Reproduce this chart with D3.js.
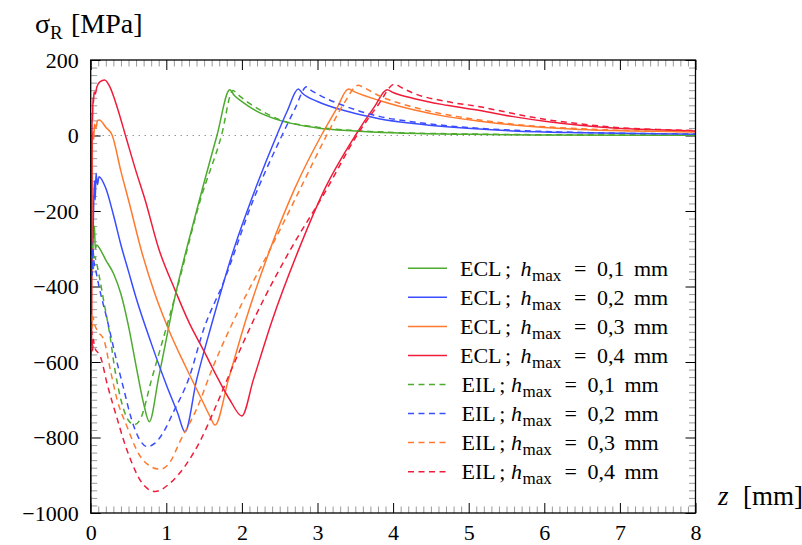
<!DOCTYPE html>
<html><head><meta charset="utf-8">
<script src="https://cdn.jsdelivr.net/npm/d3@7"></script>
<style>
body{margin:0;background:#fff;}
svg text{font-family:"Liberation Serif","Times New Roman",Times,"DejaVu Serif",serif !important;}
</style></head>
<body><svg id="c" width="802" height="545"></svg>
<script>
const xTicks=[0,1,2,3,4,5,6,7,8];
const yTicks=[200,0,-200,-400,-600,-800,-1000];
const hmaxLabels=["0,1","0,2","0,3","0,4"];
const colors=["#4dab2e","#3a4dff","#ff7a2e","#f01c3a"];

const ecl01=[[0,-240],[0.01,-200],[0.02,-300],[0.03,-230],[0.04,-270],[0.05,-240],[0.06,-300],[0.08,-290],[0.12,-300],[0.2,-330],[0.3,-365],[0.4,-420],[0.5,-505],[0.6,-610],[0.7,-710],[0.775,-758],[0.9,-640],[1.115,-427],[1.4,-200],[1.67,0],[1.84,121],[1.9,106],[2.0,90],[2.2,64],[2.5,40],[3.0,20],[3.5,12],[4.0,7],[5,3],[6,1.5],[8,0.5]];
const ecl02=[[0,-380],[0.01,-260],[0.02,-340],[0.03,-280],[0.04,-180],[0.05,-120],[0.06,-170],[0.07,-100],[0.09,-130],[0.11,-109],[0.2,-140],[0.3,-210],[0.4,-290],[0.5,-360],[0.6,-430],[0.8,-550],[1.0,-660],[1.15,-735],[1.247,-785],[1.4,-648],[1.6,-500],[1.89,-303],[2.2,-130],[2.46,0],[2.6,65],[2.746,123],[2.8,112],[3.0,90],[3.39,64],[3.83,44],[4.27,32],[4.71,23],[5.59,12],[6.5,7],[8,3]];
const ecl03=[[0,-480],[0.01,-500],[0.02,-20],[0.03,10],[0.04,-10],[0.05,30],[0.07,20],[0.09,40],[0.114,41],[0.2,22],[0.285,0],[0.4,-95],[0.5,-171],[0.68,-312],[0.85,-420],[1.05,-523],[1.25,-610],[1.47,-700],[1.58,-745],[1.644,-767],[1.82,-648],[2.05,-490],[2.37,-303],[2.7,-140],[3.05,0],[3.25,70],[3.41,123],[3.5,115],[3.83,92],[4.27,68],[4.71,50],[5.15,38],[5.59,28],[6.47,16],[7.2,12],[8,9]];
const ecl04=[[0,-1000],[0.004,-560],[0.008,-480],[0.012,-540],[0.016,-20],[0.02,60],[0.025,40],[0.03,100],[0.035,85],[0.045,115],[0.06,110],[0.08,128],[0.12,142],[0.185,147],[0.25,130],[0.35,75],[0.46,0],[0.6,-95],[0.72,-171],[0.9,-300],[1.115,-409],[1.3,-495],[1.49,-568],[1.7,-650],[1.84,-700],[2.0,-743],[2.15,-648],[2.4,-490],[2.75,-303],[3.1,-140],[3.5,0],[3.75,75],[3.92,121],[4.0,114],[4.27,98],[4.71,80],[5.15,66],[5.59,50],[6.03,37],[6.47,27],[6.91,20],[7.5,15],[8,12]];

const eil01=[[0,-300],[0.01,-340],[0.02,-290],[0.03,-360],[0.05,-320],[0.08,-340],[0.12,-380],[0.17,-436],[0.25,-524],[0.32,-620],[0.4,-700],[0.5,-755],[0.58,-766],[0.66,-750],[0.8,-650],[1.115,-427],[1.45,-171],[1.73,0],[1.88,119],[1.95,108],[2.1,85],[2.28,63],[2.5,42],[3.0,22],[3.5,13],[4,8],[5,4],[6,2],[8,0.8]];
const eil02=[[0,-340],[0.01,-280],[0.02,-370],[0.03,-300],[0.04,-330],[0.06,-350],[0.11,-400],[0.22,-490],[0.33,-586],[0.44,-674],[0.53,-745],[0.62,-795],[0.75,-824],[0.85,-815],[0.95,-790],[1.1,-730],[1.29,-648],[1.5,-510],[1.75,-392],[2.15,-171],[2.53,0],[2.7,70],[2.857,129],[2.9,122],[3.0,110],[3.39,76],[3.83,50],[4.27,36],[4.71,26],[5.59,14],[6.5,8],[8,4]];
const eil03=[[0,-490],[0.01,-470],[0.02,-510],[0.03,-480],[0.044,-495],[0.1,-520],[0.176,-542],[0.26,-621],[0.35,-700],[0.48,-771],[0.64,-845],[0.78,-875],[0.917,-884],[1.05,-865],[1.18,-811],[1.4,-725],[1.62,-612],[2.0,-445],[2.37,-303],[2.75,-150],[3.12,0],[3.35,85],[3.54,133],[3.6,128],[3.83,104],[4.27,75],[4.71,55],[5.15,41],[5.59,30],[6.47,18],[7.2,13],[8,10]];
const eil04=[[0,-1000],[0.005,-560],[0.015,-520],[0.025,-570],[0.035,-540],[0.05,-560],[0.13,-586],[0.22,-660],[0.35,-750],[0.44,-810],[0.54,-865],[0.66,-915],[0.85,-943],[1.05,-921],[1.25,-875],[1.446,-810],[1.65,-720],[1.84,-630],[2.2,-470],[2.64,-303],[3.1,-150],[3.52,0],[3.8,80],[4.02,136],[4.1,128],[4.27,112],[4.71,90],[5.15,76],[5.59,58],[6.03,42],[6.47,31],[6.91,22],[7.5,16],[8,13]];

const series=[
 {name:"ECL",h:0,data:ecl01,dash:false},
 {name:"ECL",h:1,data:ecl02,dash:false},
 {name:"ECL",h:2,data:ecl03,dash:false},
 {name:"ECL",h:3,data:ecl04,dash:false},
 {name:"EIL",h:0,data:eil01,dash:true},
 {name:"EIL",h:1,data:eil02,dash:true},
 {name:"EIL",h:2,data:eil03,dash:true},
 {name:"EIL",h:3,data:eil04,dash:true}
];

const svg=d3.select("#c");
const L=90.7,R=695.5,T=60,B=513;
const x=d3.scaleLinear().domain([0,8]).range([L,R]);
const y=d3.scaleLinear().domain([-1000,200]).range([B,T]);

svg.append("defs").append("clipPath").attr("id","clip").append("rect")
 .attr("x",L).attr("y",T).attr("width",R-L).attr("height",B-T);

svg.append("line").attr("x1",L).attr("x2",R).attr("y1",y(0)).attr("y2",y(0))
 .attr("stroke","#666").attr("stroke-width",1).attr("stroke-dasharray","1,5");

const xMinor=d3.range(0,8.0001,0.1).map(v=>+v.toFixed(2)).filter(v=>Math.abs(v-Math.round(v))>1e-6);
const yMinor=d3.range(-1000,200.1,20).filter(v=>v%200!==0);

function styleAxis(g,major){
 g.attr("font-family",null).attr("font-size",null);
 g.select(".domain").remove();
 g.selectAll(".tick line").attr("stroke",major?"#000":"#9a9a9a").attr("stroke-width",1);
}
svg.append("g").attr("transform",`translate(0,${B})`).call(d3.axisBottom(x).tickValues(xMinor).tickSizeInner(-6.5).tickFormat("")).call(g=>styleAxis(g,false));
svg.append("g").attr("transform",`translate(0,${T})`).call(d3.axisTop(x).tickValues(xMinor).tickSizeInner(-6.5).tickFormat("")).call(g=>styleAxis(g,false));
svg.append("g").attr("transform",`translate(${L},0)`).call(d3.axisLeft(y).tickValues(yMinor).tickSizeInner(-6.5).tickFormat("")).call(g=>styleAxis(g,false));
svg.append("g").attr("transform",`translate(${R},0)`).call(d3.axisRight(y).tickValues(yMinor).tickSizeInner(-6.5).tickFormat("")).call(g=>styleAxis(g,false));
svg.append("g").attr("transform",`translate(0,${T})`).call(d3.axisTop(x).tickValues(xTicks).tickSizeInner(-10).tickFormat("")).call(g=>styleAxis(g,true));
svg.append("g").attr("transform",`translate(${R},0)`).call(d3.axisRight(y).tickValues(yTicks).tickSizeInner(-10).tickFormat("")).call(g=>styleAxis(g,true));
const xa=svg.append("g").attr("transform",`translate(0,${B})`).call(d3.axisBottom(x).tickValues(xTicks).tickSizeInner(-10).tickPadding(12).tickFormat(d3.format("d"))).call(g=>styleAxis(g,true));
const ya=svg.append("g").attr("transform",`translate(${L},0)`).call(d3.axisLeft(y).tickValues(yTicks).tickSizeInner(-10).tickPadding(12).tickFormat(d3.format("d"))).call(g=>styleAxis(g,true));
[xa,ya].forEach(g=>g.selectAll("text").attr("font-size",22).attr("fill","#000"));
xa.selectAll("text").attr("dy",null).attr("y",26.5);
ya.selectAll("text").attr("dy","0.33em");

const line=d3.line().x(d=>x(d[0])).y(d=>y(d[1])).curve(d3.curveMonotoneX);
const gC=svg.append("g").attr("clip-path","url(#clip)");
series.forEach(s=>{
 gC.append("path").datum(s.data).attr("d",line).attr("fill","none")
  .attr("stroke",colors[s.h]).attr("stroke-width",1.5)
  .attr("stroke-dasharray",s.dash?"6,4.5":null);
});

svg.append("rect").attr("x",L).attr("y",T).attr("width",R-L).attr("height",B-T)
 .attr("fill","none").attr("stroke","#000").attr("stroke-width",1.3);

const yl=svg.append("text").attr("y",33).attr("font-size",28).attr("fill","#000");
yl.append("tspan").attr("x",35).text("σ");
yl.append("tspan").attr("font-size",19).attr("dy",6).text("R");
yl.append("tspan").attr("x",71).attr("dy",-6).text("[MPa]");
const xl=svg.append("text").attr("y",505).attr("font-size",27).attr("fill","#000");
xl.append("tspan").attr("x",718).attr("font-style","italic").text("z");
xl.append("tspan").attr("x",743).text("[mm]");

const lg=svg.append("g");
series.forEach((s,i)=>{
 const yy=268.3+i*29.05;
 lg.append("line").attr("x1",408).attr("x2",447).attr("y1",yy).attr("y2",yy)
  .attr("stroke",colors[s.h]).attr("stroke-width",1.5).attr("stroke-dasharray",s.dash?"6,4.5":null);
 const t=lg.append("text").attr("y",yy+7.5).attr("font-size",22).attr("fill","#000");
 const nx=s.dash?461.5:460;
 const nm=t.append("tspan").attr("x",nx).text(s.name);
 const w=nm.node().getComputedTextLength();
 const e=nx+Math.max(w,s.dash?35:46)-1;
 t.append("tspan").attr("x",nx+w+3.5).text(";");
 t.append("tspan").attr("x",e+15.5).attr("font-style","italic").text("h");
 t.append("tspan").attr("x",e+27).attr("font-size",17).attr("dy",5).text("max");
 t.append("tspan").attr("x",e+69).attr("dy",-5).text("=");
 t.append("tspan").attr("x",e+92).text(hmaxLabels[s.h]);
 t.append("tspan").attr("x",e+129).text("mm");
});
</script></body></html>
